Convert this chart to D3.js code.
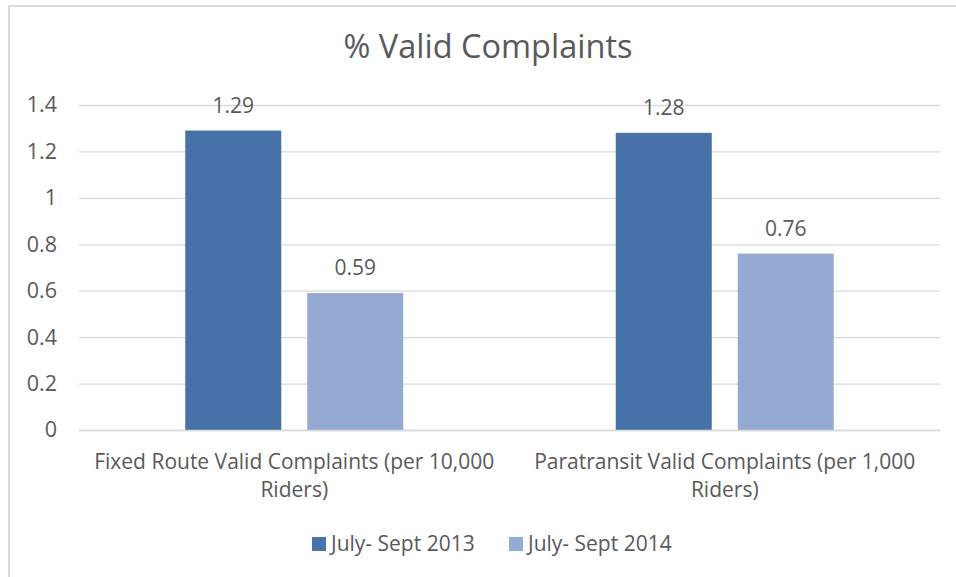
<!DOCTYPE html>
<html>
<head>
<meta charset="utf-8">
<script src="https://cdn.jsdelivr.net/npm/d3@7"></script>
<style>
  body { margin: 0; background: #fff; }
  svg text { font-family: "Open Sans", sans-serif; fill: #595959; }
</style>
</head>
<body>
<svg id="chart" width="956" height="577"></svg>
<script>
// chart data
var categories = ["Fixed Route Valid Complaints (per 10,000 Riders)", "Paratransit Valid Complaints (per 1,000 Riders)"];
var seriesNames = ["July- Sept 2013", "July- Sept 2014"];
var series2013 = [1.29, 1.28];
var series2014 = [0.59, 0.76];
var yTicks = [0, 0.2, 0.4, 0.6, 0.8, 1, 1.2, 1.4];
var colors = ["#4672a8", "#95aad3"];

var svg = d3.select("#chart");

// outer frame
svg.append("rect")
  .attr("x", 9).attr("y", 6)
  .attr("width", 960).attr("height", 580)
  .attr("fill", "none")
  .attr("stroke", "#d9d9d9")
  .attr("stroke-width", 2);

// plot area
var margin = {top: 105, right: 16, bottom: 147, left: 79},
  width = 956 - margin.left - margin.right,
  height = 577 - margin.top - margin.bottom;

var g = svg.append("g")
  .attr("transform", "translate(" + margin.left + "," + margin.top + ")");

var y = d3.scaleLinear().domain([0, 1.4]).range([height, 0]);

var x0 = d3.scaleBand().domain(categories).range([0, width]).padding(0);

// bars cover about half of each group
var groupInner = 218 / 430.5 * x0.bandwidth();
var x1 = d3.scaleBand()
  .domain(seriesNames)
  .range([(x0.bandwidth() - groupInner) / 2, (x0.bandwidth() + groupInner) / 2])
  .paddingInner(0.213);

// gridlines
g.append("g")
  .attr("class", "yAxis")
  .call(d3.axisLeft(y).tickValues(yTicks).tickSize(-width).tickPadding(22).tickFormat(d3.format("")))
  .call(a => a.select(".domain").remove())
  .call(a => a.selectAll(".tick line").attr("stroke", "#d9d9d9").attr("stroke-width", 1.3))
  .call(a => a.selectAll(".tick text").attr("font-size", "21.5px").attr("fill", "#595959"));

// rows of values for each category
var rows = categories.map(function(c, i) {
  return {cat: c, values: [
    {name: seriesNames[0], value: series2013[i]},
    {name: seriesNames[1], value: series2014[i]}
  ]};
});

var groups = g.selectAll(".group")
  .data(rows)
  .enter().append("g")
  .attr("class", "group")
  .attr("transform", d => "translate(" + x0(d.cat) + ",0)");

groups.selectAll("rect")
  .data(d => d.values)
  .enter().append("rect")
  .attr("x", d => x1(d.name))
  .attr("y", d => y(d.value))
  .attr("width", x1.bandwidth())
  .attr("height", d => height - y(d.value))
  .attr("fill", (d, i) => colors[i]);

// value labels
groups.selectAll(".val")
  .data(d => d.values)
  .enter().append("text")
  .attr("class", "val")
  .attr("x", d => x1(d.name) + x1.bandwidth() / 2)
  .attr("y", d => y(d.value) - 18)
  .attr("text-anchor", "middle")
  .attr("font-size", "21px")
  .text(d => d.value);

// x axis
var xAxis = g.append("g")
  .attr("class", "xAxis")
  .attr("transform", "translate(0," + height + ")")
  .call(d3.axisBottom(x0).tickSize(0).tickPadding(0));
xAxis.select(".domain").attr("stroke", "#d9d9d9").attr("stroke-width", 1.5);
xAxis.selectAll(".tick text")
  .attr("font-size", "21px")
  .attr("fill", "#595959")
  .attr("dy", null)
  .attr("y", 39)
  .call(wrap, x0.bandwidth() * 0.97);

function wrap(texts, maxWidth) {
  texts.each(function() {
    var text = d3.select(this),
      words = text.text().split(/\s+/),
      line = [],
      tspan = text.text(null).append("tspan").attr("x", 0).attr("y", 39),
      lineNo = 0;
    words.forEach(function(w) {
      line.push(w);
      tspan.text(line.join(" "));
      if (tspan.node().getComputedTextLength() > maxWidth && line.length > 1) {
        line.pop();
        tspan.text(line.join(" "));
        line = [w];
        lineNo++;
        tspan = text.append("tspan").attr("x", 0).attr("y", 39 + lineNo * 28).text(w);
      }
    });
  });
}

// legend
var legend = svg.append("g").attr("transform", "translate(312,537)");
var items = legend.selectAll(".item")
  .data(seriesNames)
  .enter().append("g")
  .attr("class", "item")
  .attr("transform", (d, i) => "translate(" + (i * 197) + ",0)");
items.append("rect")
  .attr("width", 14).attr("height", 14)
  .attr("fill", (d, i) => colors[i]);
items.append("text")
  .attr("x", 19).attr("y", 14)
  .attr("font-size", "21px")
  .text(d => d);

// title
svg.append("text")
  .attr("x", 488).attr("y", 58)
  .attr("text-anchor", "middle")
  .attr("font-size", "32.5px")
  .text("% Valid Complaints");
</script>
</body>
</html>
